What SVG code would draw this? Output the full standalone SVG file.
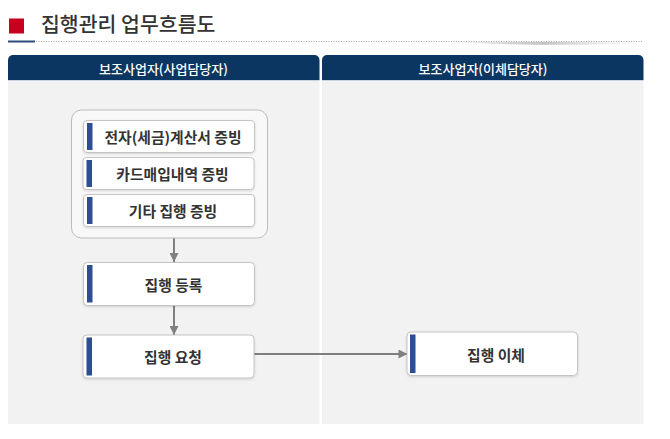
<svg xmlns="http://www.w3.org/2000/svg" width="670" height="439" viewBox="0 0 670 439">
<defs>
<style>
.title{font-family:"Noto Sans CJK KR","Noto Sans",sans-serif;font-size:20.5px;fill:#333;font-weight:500}
.hdr{fill:#0b3661}
.hdrt{font-family:"Noto Sans CJK KR","Noto Sans",sans-serif;font-size:13px;fill:#fff;text-anchor:middle;dominant-baseline:central;font-weight:500}
.lane{fill:#f2f2f2}
.box{fill:#fff;stroke:#c4c4c4;stroke-width:1}
.bar{fill:#2d4e95}
.lbl{font-family:"Noto Sans CJK KR","Noto Sans",sans-serif;font-size:14.8px;fill:#333;text-anchor:middle;dominant-baseline:central;font-weight:700}
.conn{stroke:#808080;stroke-width:2;fill:none}
</style>
<marker id="ah" viewBox="0 0 10 10" refX="10" refY="5" markerWidth="10" markerHeight="9" markerUnits="userSpaceOnUse" orient="auto">
<path d="M0,0 L10,5 L0,10 z" fill="#808080"/>
</marker>
<linearGradient id="sw" x1="0" y1="0" x2="1" y2="0">
<stop offset="0" stop-color="#bbb" stop-opacity="0"/>
<stop offset="0.5" stop-color="#bbb" stop-opacity="0.9"/>
<stop offset="1" stop-color="#ddd" stop-opacity="0"/>
</linearGradient>
<filter id="sh" x="-5%" y="-10%" width="110%" height="130%">
<feDropShadow dx="0" dy="1" stdDeviation="0.8" flood-color="#000" flood-opacity="0.15"/>
</filter>
</defs>
<rect width="670" height="439" fill="#fff"/>
<g id="title">
<rect x="9" y="18.5" width="15" height="15" fill="#c8001e"/>
<text class="title" x="41" y="32">집행관리 업무흐름도</text>
<path d="M440,42 Q560,47 645,43 L645,42 Z" fill="url(#sw)"/>
<line x1="36" y1="41.5" x2="642" y2="41.5" stroke="#a8a8a8" stroke-width="1" stroke-dasharray="1 1.5"/>
<rect x="8" y="40.5" width="27" height="2" fill="#2e4a78"/>
</g>
<g id="lane-left">
<path class="hdr" d="M8,80 V60 a5,5 0 0 1 5,-5 H314.5 a5,5 0 0 1 5,5 V80 Z"/>
<rect class="lane" x="8" y="80" width="311.5" height="344"/>
<line x1="8" y1="80.5" x2="319.5" y2="80.5" stroke="#c9d3e0" stroke-width="1"/>
<text class="hdrt" x="163.5" y="68">보조사업자(사업담당자)</text>
</g>
<g id="lane-right">
<path class="hdr" d="M322,80 V60 a5,5 0 0 1 5,-5 H638.5 a5,5 0 0 1 5,5 V80 Z"/>
<rect class="lane" x="322" y="80" width="321.5" height="344"/>
<line x1="322" y1="80.5" x2="643.5" y2="80.5" stroke="#c9d3e0" stroke-width="1"/>
<text class="hdrt" x="483" y="68">보조사업자(이체담당자)</text>
</g>
<g id="connectors">
<line class="conn" x1="174" y1="238" x2="174" y2="262" marker-end="url(#ah)"/>
<line class="conn" x1="174" y1="305.5" x2="174" y2="335" marker-end="url(#ah)"/>
<line class="conn" x1="254" y1="354" x2="407.5" y2="354" marker-end="url(#ah)"/>
</g>
<g id="group-evidence">
<rect x="71.5" y="110" width="196" height="128" rx="10" fill="#f8f8f8" stroke="#bcbcbc"/>
</g>
<g id="node-e-tax">
<rect class="box" x="83.5" y="120.5" width="171" height="32" rx="3.5" filter="url(#sh)"/>
<rect class="bar" x="87" y="123" width="5.5" height="27"/>
<text class="lbl" x="173" y="136.5">전자(세금)계산서 증빙</text>
</g>
<g id="node-card">
<rect class="box" x="83" y="157.5" width="171" height="32" rx="3.5" filter="url(#sh)"/>
<rect class="bar" x="86.5" y="160" width="5.5" height="27"/>
<text class="lbl" x="172.5" y="173.5">카드매입내역 증빙</text>
</g>
<g id="node-etc">
<rect class="box" x="83.5" y="194.5" width="171" height="32" rx="3.5" filter="url(#sh)"/>
<rect class="bar" x="87" y="197" width="5.5" height="27"/>
<text class="lbl" x="173" y="210.5">기타 집행 증빙</text>
</g>
<g id="node-register">
<rect class="box" x="83.5" y="262.5" width="171" height="43" rx="4" filter="url(#sh)"/>
<rect class="bar" x="87" y="265" width="5.5" height="37.5"/>
<text class="lbl" x="173.5" y="284">집행 등록</text>
</g>
<g id="node-request">
<rect class="box" x="83" y="335" width="171" height="43" rx="4" filter="url(#sh)"/>
<rect class="bar" x="86.5" y="337.5" width="5.5" height="38"/>
<text class="lbl" x="173" y="356.5">집행 요청</text>
</g>
<g id="node-transfer">
<rect class="box" x="407" y="332" width="170.5" height="43.5" rx="4" filter="url(#sh)"/>
<rect class="bar" x="410" y="334.5" width="5.5" height="38.5"/>
<text class="lbl" x="496" y="354">집행 이체</text>
</g>
</svg>
